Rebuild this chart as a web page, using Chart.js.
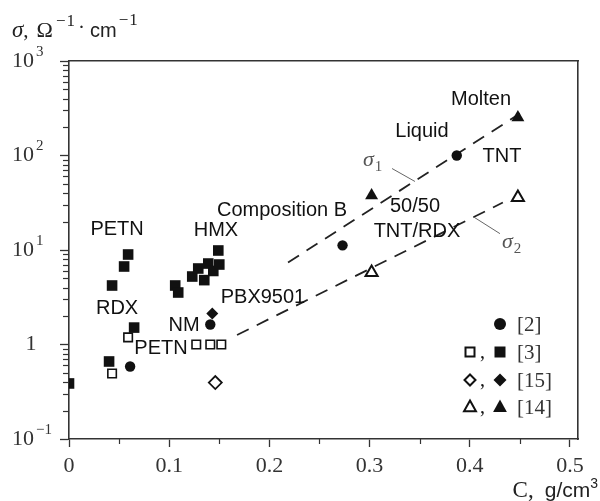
<!DOCTYPE html>
<html><head><meta charset="utf-8">
<script src="https://cdn.jsdelivr.net/npm/chart.js@4/dist/chart.umd.min.js"></script>
<style>html,body{margin:0;padding:0;background:#fff}</style>
</head><body>
<canvas id="c" width="600" height="501"></canvas>
<script>
// ---- axis ticks ----
const xTicks = [0, 0.1, 0.2, 0.3, 0.4, 0.5];
const xTickLabels = ['0', '0.1', '0.2', '0.3', '0.4', '0.5'];
const xMinorTicks = [0.05, 0.15, 0.25, 0.35, 0.45];
const yTicks = [0.1, 1, 10, 100, 1000];
// y tick labels: base and exponent (exponent '' means plain label)
const yTickBase = ['10', '1', '10', '10', '10'];
const yTickExp = ['\u22121', '', '1', '2', '3'];
const yMinorTicks = [0.2,0.3,0.4,0.5,0.6,0.7,0.8,0.9, 2,3,4,5,6,7,8,9, 20,30,40,50,60,70,80,90, 200,300,400,500,600,700,800,900];

// ---- data series (C g/cm3, sigma) ----
const ref2Filled = [{x:0.061,y:0.585},{x:0.141,y:1.63},{x:0.273,y:11.2},{x:0.387,y:100}];
const ref3Open = [{x:0.043,y:0.493},{x:0.059,y:1.19},{x:0.127,y:1.0},{x:0.141,y:1.0},{x:0.152,y:1.0}];
const ref3Filled = [{x:0.0,y:0.387},{x:0.040,y:0.661},{x:0.043,y:4.21},{x:0.055,y:6.69},{x:0.059,y:8.96},{x:0.065,y:1.51},
  {x:0.106,y:4.21},{x:0.109,y:3.55},{x:0.123,y:5.24},{x:0.129,y:6.37},{x:0.135,y:4.8},{x:0.139,y:7.19},{x:0.144,y:6.0},{x:0.150,y:7.02},{x:0.149,y:9.88}];
const ref15Open = [{x:0.146,y:0.396}];
const ref15Filled = [{x:0.143,y:2.13}];
const ref14Open = [{x:0.302,y:5.78},{x:0.448,y:35.9}];
const ref14Filled = [{x:0.302,y:37.8},{x:0.448,y:252}];
const sigma1Line = [{x:0.2186,y:7.38},{x:0.450,y:278}];
const sigma2Line = [{x:0.1677,y:1.26},{x:0.433,y:31.8}];

// ---- text annotations (data coords) ----
const labelTexts = ['PETN','RDX','PETN','NM','HMX','PBX9501','Composition B','50/50','TNT/RDX','Liquid','Molten','TNT'];
const labelX = [0.048,0.048,0.0918,0.1148,0.1467,0.1936,0.2126,0.3453,0.3473,0.3523,0.4112,0.4321];
const labelY = [16.5,2.40,0.907,1.59,16.1,3.14,26.2,28.9,15.7,179,392,97.6];
const sigmaLabels = [{main:'\u03C3', sub:'1', x:0.2934, y:76.5}, {main:'\u03C3', sub:'2', x:0.4321, y:10.6}];
const leader1 = [{x:0.3224,y:72.8},{x:0.3453,y:53.1}];
const leader2 = [{x:0.4032,y:22.6},{x:0.4301,y:14.9}];

const legendRows = [
  {open:null, filled:'circle', text:'[2]'},
  {open:'rect', filled:'rect', text:'[3]'},
  {open:'diamond', filled:'diamond', text:'[15]'},
  {open:'triangle', filled:'triangle', text:'[14]'}
];

const INK = '#111';
const AXIS = '#333';
const SERIF = '"Liberation Serif"';
const SANS = '"Liberation Sans"';

function shape(ctx, kind, x, y, s) {
  ctx.beginPath();
  if (kind === 'circle') ctx.arc(x, y, s, 0, Math.PI*2);
  else if (kind === 'rect') ctx.rect(x - s, y - s, 2*s, 2*s);
  else if (kind === 'diamond') { ctx.moveTo(x, y - s); ctx.lineTo(x + s, y); ctx.lineTo(x, y + s); ctx.lineTo(x - s, y); ctx.closePath(); }
  else if (kind === 'triangle') { ctx.moveTo(x, y - s); ctx.lineTo(x + s*0.92, y + s*0.65); ctx.lineTo(x - s*0.92, y + s*0.65); ctx.closePath(); }
}

// draw a sequence of [text, font, dy, gapAfter] pieces starting at x, baseline y; returns end x
function runs(ctx, pieces, x, y, measureOnly) {
  let cx = x;
  pieces.forEach(p => {
    ctx.font = p[1];
    if (!measureOnly) ctx.fillText(p[0], cx, y + (p[2] || 0));
    cx += ctx.measureText(p[0]).width + (p[3] || 0);
  });
  return cx;
}

const extras = {
  id: 'extras',
  afterDraw(chart) {
    const {ctx, chartArea: a, scales: {x, y}} = chart;
    ctx.save();
    // minor ticks
    ctx.strokeStyle = AXIS; ctx.lineWidth = 1.2;
    yMinorTicks.forEach(v => {
      const py = Math.round(y.getPixelForValue(v)) + 0.5;
      ctx.beginPath(); ctx.moveTo(a.left, py); ctx.lineTo(a.left - 6, py); ctx.stroke();
    });
    xMinorTicks.forEach(v => {
      const px = Math.round(x.getPixelForValue(v)) + 0.5;
      ctx.beginPath(); ctx.moveTo(px, a.bottom); ctx.lineTo(px, a.bottom + 5); ctx.stroke();
    });
    // y tick labels with superscripts
    ctx.fillStyle = '#333'; ctx.textBaseline = 'middle';
    yTicks.forEach((v, i) => {
      const py = y.getPixelForValue(v);
      if (yTickExp[i]) {
        ctx.textAlign = 'left';
        ctx.font = '22px ' + SERIF;
        ctx.fillText(yTickBase[i], 12, py);
        const w = ctx.measureText(yTickBase[i]).width;
        ctx.font = '15px ' + SERIF;
        ctx.fillText(yTickExp[i], 12 + w + 2, py - 9);
      } else {
        ctx.textAlign = 'center';
        ctx.font = '22px ' + SERIF;
        ctx.fillText(yTickBase[i], 31, py);
      }
    });
    // leader lines
    ctx.strokeStyle = '#666'; ctx.lineWidth = 1;
    [leader1, leader2].forEach(L => {
      ctx.beginPath();
      ctx.moveTo(x.getPixelForValue(L[0].x), y.getPixelForValue(L[0].y));
      ctx.lineTo(x.getPixelForValue(L[1].x), y.getPixelForValue(L[1].y));
      ctx.stroke();
    });
    // sigma labels
    ctx.fillStyle = '#555'; ctx.textAlign = 'left'; ctx.textBaseline = 'alphabetic';
    sigmaLabels.forEach(s => {
      const px = x.getPixelForValue(s.x), py = y.getPixelForValue(s.y);
      ctx.font = 'italic 22px ' + SERIF;
      ctx.fillText(s.main, px, py);
      const w = ctx.measureText(s.main).width;
      ctx.font = '15px ' + SERIF;
      ctx.fillText(s.sub, px + w + 1, py + 5);
    });
    // text annotations
    ctx.fillStyle = INK; ctx.textAlign = 'center'; ctx.textBaseline = 'middle';
    ctx.font = '20px ' + SANS;
    labelTexts.forEach((t, i) => {
      ctx.fillText(t, x.getPixelForValue(labelX[i]), y.getPixelForValue(labelY[i]));
    });
    // legend
    const c1 = a.right - 108, c2 = a.right - 78, tx = a.right - 61;
    const rowY = [a.bottom - 115, a.bottom - 87, a.bottom - 59, a.bottom - 32];
    legendRows.forEach((r, i) => {
      const ry = rowY[i];
      const sz = {circle:6, rect:5.5, diamond:6.5, triangle:7.5};
      if (r.open) {
        ctx.fillStyle = '#fff'; ctx.strokeStyle = INK; ctx.lineWidth = 2;
        shape(ctx, r.open, c1, ry, r.open === 'rect' ? 4.5 : sz[r.open] - 1);
        ctx.fill(); ctx.stroke();
        ctx.fillStyle = INK; ctx.font = '20px ' + SERIF; ctx.textAlign = 'left'; ctx.textBaseline = 'alphabetic';
        ctx.fillText(',', c1 + 10, ry + 6);
      }
      ctx.fillStyle = INK;
      shape(ctx, r.filled, c2, ry, sz[r.filled]);
      ctx.fill();
      ctx.font = '21px ' + SERIF; ctx.textAlign = 'left'; ctx.textBaseline = 'middle';
      ctx.fillStyle = '#333';
      ctx.fillText(r.text, tx, ry + 1);
    });
    // y axis title: sigma, Omega^-1 . cm^-1
    ctx.fillStyle = '#222'; ctx.textBaseline = 'alphabetic'; ctx.textAlign = 'left';
    runs(ctx, [
      ['\u03C3', 'italic 23px ' + SERIF, 0, 0],
      [',', '21px ' + SERIF, 0, 8],
      ['\u03A9', '22px ' + SERIF, 0, 3],
      ['\u2212', '17px ' + SERIF, -11, 1],
      ['1', '17px ' + SERIF, -11, 3],
      ['\u00B7', '21px ' + SERIF, -3, 5],
      ['cm', '20px ' + SANS, 0, 2],
      ['\u2212', '17px ' + SERIF, -12, 1],
      ['1', '17px ' + SERIF, -12, 0]
    ], 12, 37);
    // x axis title: C, g/cm^3 (right aligned to 598)
    const xt = [
      ['C,', '23px ' + SERIF, 0, 11],
      ['g/cm', '21px ' + SANS, 0, 0],
      ['3', '14px ' + SANS, -9, 0]
    ];
    const wx = runs(ctx, xt, 0, 0, true);
    runs(ctx, xt, 598 - wx, 497);
    ctx.restore();
  }
};

const tickFont = {family: SERIF, size: 22};
const ptBase = {showLine: false};

new Chart(document.getElementById('c'), {
  type: 'scatter',
  data: {
    datasets: [
      {...ptBase, data: ref3Filled, pointStyle: 'rect', pointRadius: 7.5, backgroundColor: INK, borderWidth: 0},
      {...ptBase, data: ref3Open, pointStyle: 'rect', pointRadius: 6, backgroundColor: '#fff', borderColor: INK, borderWidth: 1.6},
      {...ptBase, data: ref2Filled, pointStyle: 'circle', pointRadius: 5.2, backgroundColor: INK, borderWidth: 0},
      {...ptBase, data: ref15Open, pointStyle: 'rectRot', pointRadius: 6.5, backgroundColor: '#fff', borderColor: INK, borderWidth: 1.8},
      {...ptBase, data: ref15Filled, pointStyle: 'rectRot', pointRadius: 6, backgroundColor: INK, borderWidth: 0},
      {...ptBase, data: ref14Open, pointStyle: 'triangle', pointRadius: 7, backgroundColor: '#fff', borderColor: INK, borderWidth: 2},
      {...ptBase, data: ref14Filled, pointStyle: 'triangle', pointRadius: 7.5, backgroundColor: INK, borderWidth: 0},
      {data: sigma1Line, showLine: true, pointRadius: 0, borderColor: '#222', borderWidth: 1.8, borderDash: [13, 9], fill: false},
      {data: sigma2Line, showLine: true, pointRadius: 0, borderColor: '#222', borderWidth: 1.8, borderDash: [13, 9], fill: false}
    ]
  },
  options: {
    responsive: false, animation: false, events: [],
    layout: {padding: {left: 13, right: 22, top: 61, bottom: 0}},
    plugins: {legend: {display: false}, tooltip: {enabled: false}, title: {display: false}},
    scales: {
      x: {
        type: 'linear', position: 'bottom', min: 0, max: 0.508,
        afterBuildTicks: s => { s.ticks = xTicks.map(v => ({value: v})); },
        afterFit: s => { s.height = 62; },
        ticks: {callback: (v, i) => xTickLabels[i], font: tickFont, color: '#333', padding: 6, maxRotation: 0, autoSkip: false},
        grid: {display: true, drawOnChartArea: false, drawTicks: true, tickLength: 8, tickColor: AXIS, tickWidth: 1.3},
        border: {display: true, color: AXIS, width: 1.6}
      },
      y: {
        type: 'logarithmic', position: 'left', min: 0.1, max: 1000,
        afterBuildTicks: s => { s.ticks = yTicks.map(v => ({value: v})); },
        afterFit: s => { s.width = 56; },
        ticks: {callback: () => '', autoSkip: false},
        grid: {display: true, drawOnChartArea: false, drawTicks: true, tickLength: 9, tickColor: AXIS, tickWidth: 1.3},
        border: {display: true, color: AXIS, width: 1.6}
      },
      x2: {
        type: 'linear', position: 'top', min: 0, max: 0.508,
        afterFit: s => { s.height = 0; },
        ticks: {display: false}, grid: {display: false},
        border: {display: true, color: AXIS, width: 1.6}
      },
      y2: {
        type: 'logarithmic', position: 'right', min: 0.1, max: 1000,
        afterFit: s => { s.width = 0; },
        ticks: {display: false}, grid: {display: false},
        border: {display: true, color: AXIS, width: 1.6}
      }
    }
  },
  plugins: [extras]
});
</script>
</body></html>
